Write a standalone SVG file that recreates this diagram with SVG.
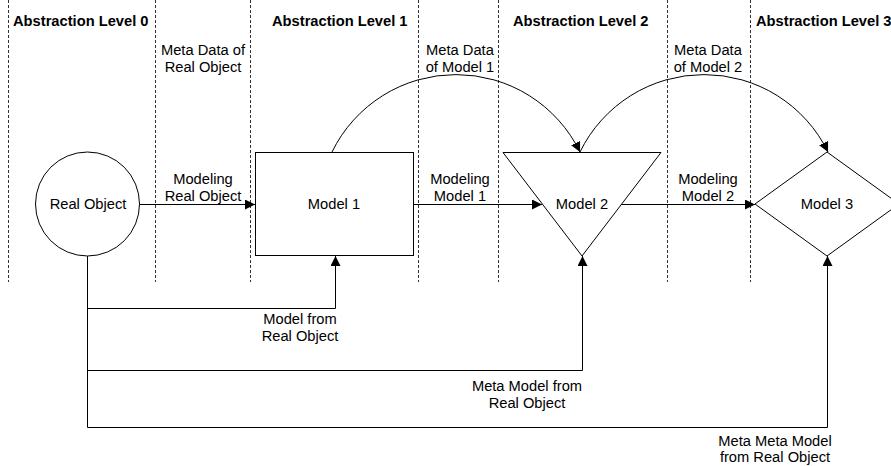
<svg xmlns="http://www.w3.org/2000/svg" width="891" height="466" viewBox="0 0 891 466">
  <defs>
    <marker id="arrow" markerUnits="userSpaceOnUse" markerWidth="10" markerHeight="10" refX="10" refY="5" orient="auto">
      <path d="M0,0 L10,5 L0,10 z" fill="#000"/>
    </marker>
    <style>
      text { font-family: "Liberation Sans", Arial, sans-serif; font-size: 14.7px; fill: #000; }
      .head { font-weight: bold; }
      .mid { text-anchor: middle; }
      .lane { stroke: #333; stroke-width: 1; stroke-dasharray: 3 2; fill: none; }
      .shape { fill: #fff; stroke: #000; stroke-width: 1; }
      .conn { fill: none; stroke: #000; stroke-width: 1; }
    </style>
  </defs>
  <rect width="891" height="466" fill="#fff"/>

  <!-- level separators -->
  <g id="lanes">
    <line class="lane" x1="8.5" y1="0" x2="8.5" y2="282"/>
    <line class="lane" x1="155.5" y1="0" x2="155.5" y2="282"/>
    <line class="lane" x1="250.5" y1="0" x2="250.5" y2="282"/>
    <line class="lane" x1="418.5" y1="0" x2="418.5" y2="282"/>
    <line class="lane" x1="498.5" y1="0" x2="498.5" y2="282"/>
    <line class="lane" x1="667.5" y1="0" x2="667.5" y2="282"/>
    <line class="lane" x1="750.5" y1="0" x2="750.5" y2="282"/>
  </g>

  <!-- level headings -->
  <g id="headings">
    <text class="head" x="13" y="26">Abstraction Level 0</text>
    <text class="head" x="272" y="26">Abstraction Level 1</text>
    <text class="head" x="513" y="26">Abstraction Level 2</text>
    <text class="head" x="756" y="26">Abstraction Level 3</text>
  </g>

  <!-- connectors -->
  <g id="connectors">
    <line class="conn" x1="140" y1="204.5" x2="255" y2="204.5" marker-end="url(#arrow)"/>
    <line class="conn" x1="413" y1="204.5" x2="542" y2="204.5" marker-end="url(#arrow)"/>
    <line class="conn" x1="621" y1="204.5" x2="755" y2="204.5" marker-end="url(#arrow)"/>
    <path class="conn" d="M332,152 A138,138 0 0 1 580,152" marker-end="url(#arrow)"/>
    <path class="conn" d="M580,152 A138,138 0 0 1 828,152" marker-end="url(#arrow)"/>
    <path class="conn" d="M87.5,256 V427.5 H827.5 V256" marker-end="url(#arrow)"/>
    <path class="conn" d="M87.5,370.5 H582.5 V256" marker-end="url(#arrow)"/>
    <path class="conn" d="M87.5,308.5 H335.5 V256" marker-end="url(#arrow)"/>
  </g>

  <!-- connector labels -->
  <g id="labels">
    <text class="mid" x="203" y="55">Meta Data of</text>
    <text class="mid" x="203" y="72">Real Object</text>
    <text class="mid" x="460" y="55">Meta Data</text>
    <text class="mid" x="460" y="72">of Model 1</text>
    <text class="mid" x="708" y="55">Meta Data</text>
    <text class="mid" x="708" y="72">of Model 2</text>
    <text class="mid" x="203" y="184">Modeling</text>
    <text class="mid" x="203" y="201">Real Object</text>
    <text class="mid" x="460" y="184">Modeling</text>
    <text class="mid" x="460" y="201">Model 1</text>
    <text class="mid" x="708" y="184">Modeling</text>
    <text class="mid" x="708" y="201">Model 2</text>
    <text class="mid" x="300" y="324">Model from</text>
    <text class="mid" x="300" y="341">Real Object</text>
    <text class="mid" x="527" y="391">Meta Model from</text>
    <text class="mid" x="527" y="408">Real Object</text>
    <text class="mid" x="775" y="446">Meta Meta Model</text>
    <text class="mid" x="775" y="462">from Real Object</text>
  </g>

  <!-- nodes -->
  <g id="real-object">
    <circle class="shape" cx="87.5" cy="204" r="52"/>
    <text class="mid" x="88" y="209">Real Object</text>
  </g>
  <g id="model-1">
    <rect class="shape" x="255.5" y="152.5" width="158" height="103"/>
    <text class="mid" x="334" y="209">Model 1</text>
  </g>
  <g id="model-2">
    <polygon class="shape" points="503,152.5 661,152.5 582,256"/>
    <text class="mid" x="582" y="209">Model 2</text>
  </g>
  <g id="model-3">
    <polygon class="shape" points="755,204 827,152 899,204 827,256"/>
    <text class="mid" x="827" y="209">Model 3</text>
  </g>
</svg>
